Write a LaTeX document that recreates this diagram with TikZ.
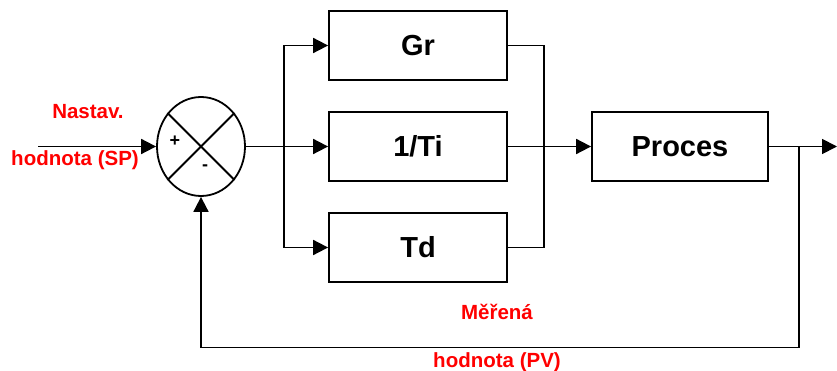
\documentclass[tikz,border=0pt]{standalone}
\usepackage{fontspec}
\setmainfont{Liberation Sans}
\usetikzlibrary{arrows.meta,shapes.geometric}
\begin{document}
\begin{tikzpicture}[x=1pt,y=-1pt,
  blk/.style={draw,line width=1.8pt,minimum width=178pt,minimum height=69pt,inner sep=0pt,font=\fontsize{29}{29}\selectfont\bfseries},
  lbl/.style={text=red,font=\fontsize{20.5}{20.5}\selectfont\bfseries,inner sep=0pt},
  sgn/.style={font=\fontsize{18}{18}\selectfont\bfseries,inner sep=0pt},
  wire/.style={line width=1.8pt},
  arr/.style={wire,-{Triangle[length=15pt,width=15pt]}}]
\useasboundingbox (0,0) rectangle (837,371);
% summing junction
\node[ellipse,draw,line width=1.8pt,minimum width=88pt,minimum height=99pt,inner sep=0pt] (sum) at (201,146.5) {};
\draw[wire] (sum.45) -- (sum.225);
\draw[wire] (sum.135) -- (sum.315);
\node[sgn] (plus) at (175,141) {+};
\node[sgn] (minus) at (205,168) {-};
% blocks
\node[blk] (gr) at (418,45.5) {Gr};
\node[blk] (ti) at (418,146.5) {1/Ti};
\node[blk] (td) at (418,247.5) {Td};
\node[blk,minimum width=176pt] (proc) at (680,146.5) {Proces};
% labels
\node[lbl] (sp1) at (88,112) {Nastav.};
\node[lbl] (sp2) at (75,160) {hodnota (SP)};
\node[lbl] (pv1) at (497,312) {Měřená};
\node[lbl] (pv2) at (497,362) {hodnota (PV)};
% connectors
\coordinate (in) at (38,146.5);
\coordinate (sp) at (284,146.5);
\coordinate (mg) at (544,146.5);
\coordinate (br) at (799,146.5);
\coordinate (fb) at (799,347.5);
\coordinate (out) at (837,146.5);
\draw[arr] (in) -- (sum.west);
\draw[wire] (sum.east) -- (sp);
\draw[arr] (sp) -- (ti.west);
\draw[arr] (sp) |- (gr.west);
\draw[arr] (sp) |- (td.west);
\draw[wire] (gr.east) -| (mg);
\draw[wire] (td.east) -| (mg);
\draw[wire] (ti.east) -- (mg);
\draw[arr] (mg) -- (proc.west);
\draw[arr] (proc.east) -- (out);
\draw[arr] (br) -- (fb) -| (sum.south);
\end{tikzpicture}
\end{document}
